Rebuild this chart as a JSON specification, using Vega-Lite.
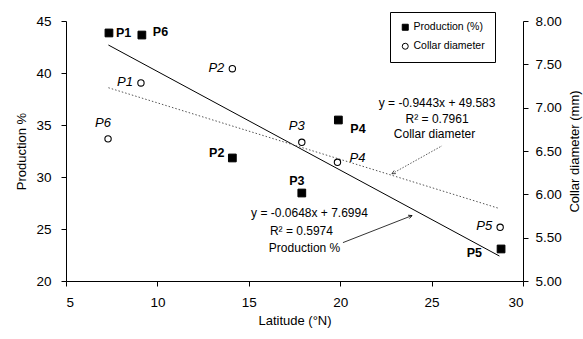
{
  "$schema": "https://vega.github.io/schema/vega-lite/v6.json",
  "width": 457,
  "height": 260,
  "autosize": "none",
  "padding": {"left": 66, "top": 21, "right": 60, "bottom": 58},
  "background": "white",
  "config": {
    "view": {"stroke": null},
    "font": "Liberation Sans",
    "axis": {
      "domainColor": "black", "tickColor": "black", "labelColor": "black", "titleColor": "black",
      "grid": false, "labelFont": "Liberation Sans", "titleFont": "Liberation Sans",
      "labelFontSize": 13.5, "titleFontSize": 13, "titleFontWeight": "normal", "tickSize": 5
    },
    "legend": {
      "orient": "none", "legendX": 324, "legendY": -9, "strokeColor": "black", "fillColor": "white", "padding": 10,
      "labelFontSize": 10.5, "labelFont": "Liberation Sans", "labelColor": "black",
      "symbolStrokeWidth": 1, "symbolSize": 36, "rowPadding": 8, "labelOffset": 3
    }
  },
  "datasets": {
    "prod": [
      {"site": "P1", "lat": 7.35, "prod": 43.85, "series": "Production (%)"},
      {"site": "P6", "lat": 9.15, "prod": 43.65, "series": "Production (%)"},
      {"site": "P2", "lat": 14.1, "prod": 31.83, "series": "Production (%)"},
      {"site": "P3", "lat": 17.9, "prod": 28.46, "series": "Production (%)"},
      {"site": "P4", "lat": 19.9, "prod": 35.48, "series": "Production (%)"},
      {"site": "P5", "lat": 28.8, "prod": 23.08, "series": "Production (%)"}
    ],
    "collar": [
      {"site": "P1", "lat": 9.1, "collar": 7.285, "series": "Collar diameter"},
      {"site": "P6", "lat": 7.3, "collar": 6.64, "series": "Collar diameter"},
      {"site": "P2", "lat": 14.1, "collar": 7.45, "series": "Collar diameter"},
      {"site": "P3", "lat": 17.9, "collar": 6.6, "series": "Collar diameter"},
      {"site": "P4", "lat": 19.85, "collar": 6.37, "series": "Collar diameter"},
      {"site": "P5", "lat": 28.75, "collar": 5.62, "series": "Collar diameter"}
    ],
    "prodfit": [{"lat": 7.32, "prod": 42.69}, {"lat": 28.71, "prod": 22.4}],
    "collarfit": [{"lat": 7.32, "collar": 7.23}, {"lat": 28.65, "collar": 5.84}],
    "notes": [
      {"lat": 25.3, "prod": 37.12, "text": "y = -0.9443x + 49.583"},
      {"lat": 25.3, "prod": 35.58, "text": "R² = 0.7961"},
      {"lat": 25.16, "prod": 34.13, "text": "Collar diameter"},
      {"lat": 18.32, "prod": 26.54, "text": "y = -0.0648x + 7.6994"},
      {"lat": 17.88, "prod": 24.81, "text": "R² = 0.5974"},
      {"lat": 18.05, "prod": 23.17, "text": "Production %"}
    ],
    "arrows": [
      {"kind": "collar", "lat": 22.83, "prod": 30.31, "lat2": 25.57, "prod2": 33.0},
      {"kind": "prod", "lat": 23.93, "prod": 26.29, "lat2": 20.15, "prod2": 23.69}
    ]
  },
  "encoding": {
    "x": {"field": "lat", "type": "quantitative", "scale": {"domain": [5, 30]},
      "axis": {"title": "Latitude (°N)", "values": [5, 10, 15, 20, 25, 30], "labelPadding": 9, "titlePadding": 6}}
  },
  "layer": [
    {
      "encoding": {
        "y": {"field": "prod", "type": "quantitative", "scale": {"domain": [20, 45]},
          "axis": {"orient": "left", "title": "Production %", "values": [20, 25, 30, 35, 40, 45], "labelPadding": 10, "titlePadding": 7}}
      },
      "layer": [
        {"data": {"name": "prodfit"}, "mark": {"type": "line", "color": "black", "strokeWidth": 1}},
        {"data": {"name": "prod"},
          "mark": {"type": "point", "filled": true, "size": 60, "strokeWidth": 1, "opacity": 1},
          "encoding": {
            "shape": {"field": "series", "type": "nominal", "scale": {"domain": ["Production (%)", "Collar diameter"], "range": ["square", "circle"]}, "legend": {"title": null}},
            "fill": {"field": "series", "type": "nominal", "scale": {"domain": ["Production (%)", "Collar diameter"], "range": ["black", "white"]}, "legend": {"title": null}},
            "stroke": {"field": "series", "type": "nominal", "scale": {"domain": ["Production (%)", "Collar diameter"], "range": ["black", "black"]}, "legend": {"title": null}}
          }
        },
        {"data": {"name": "prod"}, "transform": [{"filter": "datum.site === 'P1'"}],
          "mark": {"type": "text", "align": "left", "baseline": "middle", "dx": 7, "dy": 0, "fontWeight": "bold", "fontSize": 12.5, "color": "black"},
          "encoding": {"text": {"field": "site"}}},
        {"data": {"name": "prod"}, "transform": [{"filter": "datum.site === 'P6'"}],
          "mark": {"type": "text", "align": "left", "baseline": "middle", "dx": 11, "dy": -3, "fontWeight": "bold", "fontSize": 12.5, "color": "black"},
          "encoding": {"text": {"field": "site"}}},
        {"data": {"name": "prod"}, "transform": [{"filter": "datum.site === 'P4'"}],
          "mark": {"type": "text", "align": "left", "baseline": "middle", "dx": 12, "dy": 9, "fontWeight": "bold", "fontSize": 12.5, "color": "black"},
          "encoding": {"text": {"field": "site"}}},
        {"data": {"name": "prod"}, "transform": [{"filter": "datum.site === 'P2'"}],
          "mark": {"type": "text", "align": "right", "baseline": "middle", "dx": -8, "dy": -5, "fontWeight": "bold", "fontSize": 12.5, "color": "black"},
          "encoding": {"text": {"field": "site"}}},
        {"data": {"name": "prod"}, "transform": [{"filter": "datum.site === 'P3'"}],
          "mark": {"type": "text", "align": "center", "baseline": "middle", "dx": -5, "dy": -12, "fontWeight": "bold", "fontSize": 12.5, "color": "black"},
          "encoding": {"text": {"field": "site"}}},
        {"data": {"name": "prod"}, "transform": [{"filter": "datum.site === 'P5'"}],
          "mark": {"type": "text", "align": "right", "baseline": "middle", "dx": -19, "dy": 4, "fontWeight": "bold", "fontSize": 12.5, "color": "black"},
          "encoding": {"text": {"field": "site"}}},
        {"data": {"name": "notes"},
          "mark": {"type": "text", "align": "center", "baseline": "middle", "fontSize": 12, "color": "black"},
          "encoding": {"text": {"field": "text"}}},
        {"data": {"name": "arrows"}, "transform": [{"filter": "datum.kind === 'collar'"}],
          "mark": {"type": "rule", "color": "#333", "strokeWidth": 0.8, "strokeDash": [1.5, 1.5]},
          "encoding": {"x2": {"field": "lat2"}, "y2": {"field": "prod2"}}},
        {"data": {"name": "arrows"}, "transform": [{"filter": "datum.kind === 'prod'"}],
          "mark": {"type": "rule", "color": "black", "strokeWidth": 0.8},
          "encoding": {"x2": {"field": "lat2"}, "y2": {"field": "prod2"}}},
        {"data": {"name": "arrows"}, "transform": [{"filter": "datum.kind === 'collar'"}],
          "mark": {"type": "point", "shape": "M-1,-0.5L0,0L-1,0.5", "filled": false, "color": "#333", "strokeWidth": 0.8, "size": 50, "angle": 150.75, "opacity": 1},
          "encoding": {}},
        {"data": {"name": "arrows"}, "transform": [{"filter": "datum.kind === 'prod'"}],
          "mark": {"type": "point", "shape": "M-1,-0.5L0,0L-1,0.5", "filled": false, "color": "black", "strokeWidth": 0.8, "size": 50, "angle": 338.6, "opacity": 1},
          "encoding": {}}
      ]
    },
    {
      "encoding": {
        "y": {"field": "collar", "type": "quantitative", "scale": {"domain": [5, 8]},
          "axis": {"orient": "right", "title": "Collar diameter (mm)", "values": [5, 5.5, 6, 6.5, 7, 7.5, 8], "format": ".2f", "labelPadding": 7, "titlePadding": 20, "titleAngle": 270}}
      },
      "layer": [
        {"data": {"name": "collarfit"}, "mark": {"type": "line", "color": "#555", "strokeWidth": 1, "strokeDash": [1.5, 2]}},
        {"data": {"name": "collar"},
          "mark": {"type": "point", "filled": true, "size": 40, "strokeWidth": 1.1, "opacity": 1},
          "encoding": {
            "shape": {"field": "series", "type": "nominal", "scale": {"domain": ["Production (%)", "Collar diameter"], "range": ["square", "circle"]}, "legend": {"title": null}},
            "fill": {"field": "series", "type": "nominal", "scale": {"domain": ["Production (%)", "Collar diameter"], "range": ["black", "white"]}, "legend": {"title": null}},
            "stroke": {"field": "series", "type": "nominal", "scale": {"domain": ["Production (%)", "Collar diameter"], "range": ["black", "black"]}, "legend": {"title": null}}
          }
        },
        {"data": {"name": "collar"}, "transform": [{"filter": "datum.site === 'P1' || datum.site === 'P2' || datum.site === 'P5'"}],
          "mark": {"type": "text", "align": "right", "baseline": "middle", "dx": -8, "dy": -1, "fontStyle": "italic", "fontSize": 13, "color": "black"},
          "encoding": {"text": {"field": "site"}}},
        {"data": {"name": "collar"}, "transform": [{"filter": "datum.site === 'P6' || datum.site === 'P3'"}],
          "mark": {"type": "text", "align": "center", "baseline": "middle", "dx": -5, "dy": -16, "fontStyle": "italic", "fontSize": 13, "color": "black"},
          "encoding": {"text": {"field": "site"}}},
        {"data": {"name": "collar"}, "transform": [{"filter": "datum.site === 'P4'"}],
          "mark": {"type": "text", "align": "left", "baseline": "middle", "dx": 12, "dy": -4, "fontStyle": "italic", "fontSize": 13, "color": "black"},
          "encoding": {"text": {"field": "site"}}}
      ]
    }
  ],
  "resolve": {"scale": {"y": "independent"}}
}
